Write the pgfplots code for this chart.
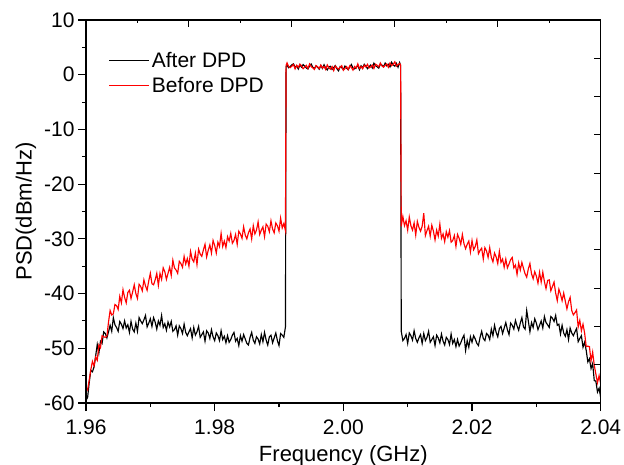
\documentclass[border=0pt]{standalone}
\usepackage{fontspec}
\setmainfont{Liberation Sans}
\usepackage{pgfplots}
\usepackage{pgfplotstable}
\pgfplotsset{compat=1.18}

% PSD data, GHz / dBm/Hz
\pgfplotstableread{
x after before
1.96000 -59.5 -57.2
1.96025 -59.0 -57.6
1.96050 -56.3 -55.8
1.96075 -54.0 -53.9
1.96100 -54.3 -52.4
1.96125 -53.4 -53.2
1.96150 -51.4 -51.6
1.96175 -49.3 -52.2
1.96200 -50.9 -49.4
1.96225 -48.7 -49.9
1.96250 -49.1 -47.7
1.96275 -47.0 -47.9
1.96300 -47.3 -48.0
1.96325 -48.1 -47.8
1.96350 -47.0 -45.2
1.96375 -45.8 -43.1
1.96400 -46.9 -43.9
1.96425 -44.4 -43.7
1.96450 -45.7 -42.0
1.96475 -46.2 -42.2
1.96500 -46.9 -42.9
1.96525 -45.1 -40.5
1.96550 -45.6 -41.7
1.96575 -46.4 -39.3
1.96600 -45.0 -40.7
1.96625 -46.3 -41.7
1.96650 -45.7 -39.8
1.96675 -47.1 -39.4
1.96700 -45.1 -40.9
1.96725 -46.5 -39.7
1.96750 -47.0 -38.4
1.96775 -45.4 -40.0
1.96800 -46.9 -40.9
1.96825 -44.4 -38.3
1.96850 -45.0 -38.7
1.96875 -45.5 -39.5
1.96900 -44.8 -37.5
1.96925 -44.0 -38.6
1.96950 -46.1 -39.4
1.96975 -45.4 -37.7
1.97000 -44.6 -36.3
1.97025 -46.0 -38.2
1.97050 -44.4 -38.4
1.97075 -45.2 -37.5
1.97100 -46.5 -36.3
1.97125 -45.0 -38.5
1.97150 -45.8 -36.3
1.97175 -44.0 -37.4
1.97200 -46.2 -35.3
1.97225 -45.5 -36.0
1.97250 -46.7 -37.4
1.97275 -45.2 -36.3
1.97300 -46.1 -35.2
1.97325 -45.1 -36.7
1.97350 -46.9 -33.9
1.97375 -46.6 -35.3
1.97400 -45.9 -35.7
1.97425 -47.6 -36.3
1.97450 -45.9 -34.1
1.97475 -46.4 -34.5
1.97500 -47.3 -35.2
1.97525 -45.6 -33.2
1.97550 -47.1 -34.6
1.97575 -47.7 -33.6
1.97600 -47.0 -35.0
1.97625 -46.4 -32.3
1.97650 -48.1 -33.7
1.97675 -46.2 -34.2
1.97700 -47.6 -32.6
1.97725 -47.0 -34.7
1.97750 -46.0 -31.9
1.97775 -48.0 -32.8
1.97800 -47.5 -33.2
1.97825 -47.0 -32.0
1.97850 -48.7 -31.0
1.97875 -46.8 -33.3
1.97900 -47.2 -32.1
1.97925 -48.2 -31.1
1.97950 -46.6 -32.6
1.97975 -47.9 -30.3
1.98000 -48.6 -31.2
1.98025 -47.2 -32.6
1.98050 -47.7 -30.6
1.98075 -48.6 -31.4
1.98100 -46.8 -29.0
1.98125 -48.4 -31.4
1.98150 -47.8 -30.4
1.98175 -49.0 -31.6
1.98200 -47.7 -29.6
1.98225 -48.9 -30.4
1.98250 -48.4 -29.0
1.98275 -47.6 -30.8
1.98300 -47.1 -30.3
1.98325 -48.7 -29.2
1.98350 -48.2 -31.0
1.98375 -49.5 -28.6
1.98400 -47.7 -29.1
1.98425 -48.7 -29.9
1.98450 -47.5 -27.8
1.98475 -48.3 -29.3
1.98500 -49.1 -30.0
1.98525 -49.4 -28.9
1.98550 -48.0 -28.2
1.98575 -47.1 -30.0
1.98600 -48.5 -27.6
1.98625 -49.1 -29.1
1.98650 -47.9 -28.4
1.98675 -48.3 -26.9
1.98700 -49.2 -29.2
1.98725 -47.5 -28.4
1.98750 -48.8 -27.8
1.98775 -47.1 -29.6
1.98800 -48.5 -27.3
1.98825 -49.4 -27.7
1.98850 -47.9 -28.7
1.98875 -47.6 -26.7
1.98900 -49.0 -28.2
1.98925 -48.1 -28.9
1.98950 -47.2 -27.1
1.98975 -48.6 -27.6
1.99000 -49.5 -28.6
1.99025 -47.3 -26.2
1.99050 -47.6 -28.0
1.99075 -48.0 -27.2
1.99100 -46.1 -28.5
1.99110 1.50 1.70
1.99125 1.72 2.16
1.99150 1.27 1.47
1.99175 1.50 1.30
1.99200 1.81 1.57
1.99225 1.99 1.87
1.99250 1.38 1.06
1.99275 1.57 1.73
1.99300 1.04 1.32
1.99325 1.79 1.95
1.99350 1.38 1.62
1.99375 1.85 1.09
1.99400 1.55 1.39
1.99425 1.22 1.70
1.99450 1.05 1.13
1.99475 1.60 1.96
1.99500 1.95 1.47
1.99525 1.38 1.26
1.99550 1.13 0.97
1.99575 1.59 1.67
1.99600 1.38 1.46
1.99625 1.01 1.13
1.99650 1.68 1.76
1.99675 1.15 1.23
1.99700 1.82 1.50
1.99725 1.25 0.97
1.99750 0.87 1.79
1.99775 1.42 1.26
1.99800 1.53 1.01
1.99825 0.96 1.48
1.99850 1.31 0.75
1.99875 1.66 1.58
1.99900 1.09 1.25
1.99925 0.71 1.03
1.99950 1.50 1.34
1.99975 1.29 1.65
2.00000 0.96 0.80
2.00025 1.58 1.14
2.00050 1.20 1.48
2.00075 0.90 0.94
2.00100 1.44 1.64
2.00125 1.86 1.34
2.00150 1.20 0.84
2.00175 1.06 1.50
2.00200 1.36 1.20
2.00225 1.70 1.98
2.00250 0.92 1.16
2.00275 1.62 1.50
2.00300 1.24 1.08
2.00325 1.90 1.74
2.00350 1.60 1.44
2.00375 1.10 1.90
2.00400 1.44 1.24
2.00425 1.78 1.42
2.00450 1.24 1.76
2.00475 2.10 1.14
2.00500 1.64 1.92
2.00525 1.46 1.74
2.00550 1.20 1.44
2.00575 1.94 2.14
2.00600 1.76 1.60
2.00625 1.46 1.38
2.00650 2.12 1.72
2.00675 1.62 1.98
2.00700 1.92 1.36
2.00725 1.42 2.14
2.00750 2.28 1.64
2.00775 1.78 1.90
2.00800 1.56 2.36
2.00825 2.06 1.58
2.00850 1.36 1.84
2.00875 2.22 2.06
2.00890 1.70 1.80
2.00900 -46.9 -27.7
2.00925 -48.6 -25.9
2.00950 -48.2 -27.6
2.00975 -47.5 -26.7
2.01000 -49.1 -28.4
2.01025 -47.2 -26.0
2.01050 -47.7 -27.6
2.01075 -48.5 -28.4
2.01100 -46.8 -27.1
2.01125 -48.2 -29.3
2.01150 -48.9 -26.8
2.01175 -48.1 -27.9
2.01200 -47.5 -28.6
2.01225 -49.1 -27.7
2.01250 -47.3 -25.3
2.01275 -48.6 -29.4
2.01300 -48.0 -28.5
2.01325 -46.9 -27.7
2.01350 -48.9 -29.5
2.01375 -48.4 -27.5
2.01400 -47.9 -28.6
2.01425 -49.5 -30.2
2.01450 -47.6 -28.4
2.01475 -48.1 -29.5
2.01500 -49.0 -27.3
2.01525 -47.4 -29.9
2.01550 -48.7 -29.1
2.01575 -49.4 -30.5
2.01600 -48.0 -28.7
2.01625 -48.4 -29.7
2.01650 -49.3 -28.5
2.01675 -47.4 -30.6
2.01700 -49.1 -30.3
2.01725 -48.4 -29.4
2.01750 -49.7 -31.4
2.01775 -48.4 -29.2
2.01800 -49.6 -29.9
2.01825 -49.0 -31.0
2.01850 -48.2 -29.2
2.01875 -47.6 -30.9
2.01900 -50.4 -31.8
2.01925 -48.6 -31.0
2.01950 -49.8 -30.4
2.01975 -47.9 -32.4
2.02000 -48.9 -30.3
2.02025 -47.7 -32.0
2.02050 -48.3 -31.4
2.02075 -49.1 -30.2
2.02100 -49.5 -32.7
2.02125 -48.0 -32.1
2.02150 -46.9 -31.7
2.02175 -48.2 -33.7
2.02200 -48.6 -31.6
2.02225 -47.3 -32.2
2.02250 -47.6 -33.4
2.02275 -48.4 -31.6
2.02300 -46.5 -33.4
2.02325 -47.7 -34.2
2.02350 -45.8 -32.6
2.02375 -47.1 -33.3
2.02400 -47.9 -34.5
2.02425 -46.4 -32.3
2.02450 -46.0 -34.3
2.02475 -47.3 -33.7
2.02500 -46.3 -35.2
2.02525 -45.3 -33.7
2.02550 -46.6 -35.3
2.02575 -47.5 -34.6
2.02600 -45.4 -33.8
2.02625 -45.8 -33.4
2.02650 -46.5 -35.3
2.02675 -44.9 -34.8
2.02700 -45.9 -36.5
2.02725 -46.7 -34.4
2.02750 -45.4 -35.7
2.02775 -44.4 -34.3
2.02800 -46.1 -35.4
2.02825 -46.5 -36.4
2.02850 -43.1 -37.0
2.02875 -45.0 -35.5
2.02900 -47.0 -34.5
2.02925 -45.3 -36.4
2.02950 -46.2 -37.3
2.02975 -44.6 -36.0
2.03000 -45.4 -36.8
2.03025 -46.6 -38.1
2.03050 -45.8 -36.1
2.03075 -45.0 -37.9
2.03100 -46.3 -36.1
2.03125 -44.2 -37.8
2.03150 -45.3 -39.1
2.03175 -45.7 -37.6
2.03200 -46.2 -37.5
2.03225 -44.2 -39.5
2.03250 -44.5 -38.7
2.03275 -45.1 -37.9
2.03300 -44.0 -39.9
2.03325 -45.8 -41.3
2.03350 -45.6 -39.2
2.03375 -47.4 -40.1
2.03400 -45.8 -41.3
2.03425 -47.2 -39.9
2.03450 -47.8 -41.4
2.03475 -46.6 -42.8
2.03500 -48.4 -41.5
2.03525 -46.3 -40.7
2.03550 -47.2 -43.1
2.03575 -47.7 -43.9
2.03600 -47.0 -43.5
2.03625 -46.4 -43.0
2.03650 -48.8 -46.1
2.03675 -48.2 -44.9
2.03700 -47.7 -46.8
2.03725 -49.8 -45.6
2.03750 -48.9 -47.2
2.03775 -50.4 -49.7
2.03800 -52.5 -49.6
2.03825 -51.9 -49.7
2.03850 -53.7 -52.3
2.03875 -52.8 -50.7
2.03900 -55.9 -53.1
2.03925 -56.0 -54.7
2.03950 -58.0 -56.3
2.03975 -57.3 -55.0
2.04000 -59.0 -56.5
}\psd

\begin{document}
\begin{tikzpicture}
\pgfplotsset{
  frame/.style={
    scale only axis,
    width=514.7bp, height=383bp,
    xmin=1.96, xmax=2.04, ymin=-60, ymax=10,
    axis line style={line width=1.2bp},
    every tick/.style={black, line width=1.1bp},
  },
}
\begin{axis}[
  frame,
  xtick={1.96,1.98,2.00,2.02,2.04},
  xticklabels={1.96,1.98,2.00,2.02,2.04},
  minor x tick num=1,
  ytick={-60,-50,...,10},
  yticklabels={-60,-50,-40,-30,-20,-10,0,10},
  minor y tick num=1,
  xtick pos=left, ytick pos=left,
  tick align=outside,
  major tick length=8bp, minor tick length=4bp,
  tick label style={font=\fontsize{21bp}{25bp}\selectfont},
  xticklabel style={yshift=-5bp},
  xlabel={Frequency (GHz)},
  ylabel={PSD(dBm/Hz)},
  every axis x label/.style={at={(axis description cs:0.5,-0.1533)}, anchor=base,
    font=\fontsize{22bp}{26bp}\selectfont},
  every axis y label/.style={at={(axis description cs:-0.1055,0.5)}, anchor=base, rotate=90,
    font=\fontsize{22bp}{26bp}\selectfont},
  legend style={at={(axis description cs:0.038,0.8616)}, anchor=west,
    draw=none, fill=none, font=\fontsize{21bp}{25bp}\selectfont,
    row sep=4bp},
  legend cell align=left,
  legend image code/.code={\draw[#1, line width=1.1bp] (0bp,0bp) -- (40bp,0bp);},
]
\addplot[black, line width=1.15bp] table[x=x, y=after] {\psd};
\addlegendentry{After DPD}
\addplot[red, line width=1.15bp] table[x=x, y=before] {\psd};
\addlegendentry{Before DPD}
\end{axis}
\begin{axis}[
  frame,
  xtick={1.96,1.976,1.992,2.008,2.024,2.04},
  xticklabels={},
  minor x tick num=1,
  ytick={-60,-53,...,10},
  yticklabels={},
  xtick pos=right, ytick pos=right,
  tick align=inside,
  major tick length=7bp, minor tick length=3.5bp,
]
\end{axis}
\pgfresetboundingbox
\path[use as bounding box] (-86bp,-62bp) rectangle (538bp,403bp);
\end{tikzpicture}
\end{document}
